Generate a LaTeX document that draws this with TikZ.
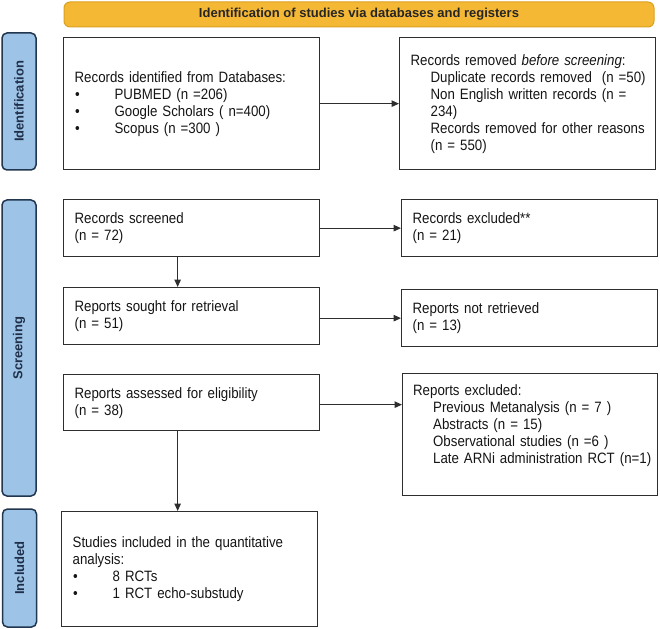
\documentclass[tikz,border=0pt]{standalone}
\usepackage{fontspec}
\setmainfont{Liberation Sans}[FakeStretch=0.885]
\newfontfamily\labfont{Liberation Sans}
\usetikzlibrary{arrows.meta}
\definecolor{bannerfill}{HTML}{F5B835}
\definecolor{bannerdraw}{HTML}{D9A020}
\definecolor{labfill}{HTML}{9DC3E6}
\definecolor{labdraw}{HTML}{22364F}
\definecolor{labtext}{HTML}{1F2F4A}
\definecolor{boxdraw}{HTML}{2E2E2E}
\definecolor{txt}{HTML}{151515}
\newcommand{\bitem}[1]{\makebox[40pt][l]{\hspace{0.5pt}\textbullet}\mbox{#1}}
\newcommand{\ind}[1]{\hspace*{20pt}\mbox{#1}}
\begin{document}
\begin{tikzpicture}[x=1pt,y=-1pt,
  box/.style={draw=boxdraw, line width=1.3pt, anchor=north west, inner sep=0pt,
    align=left, text=txt, font=\fontsize{15}{17}\selectfont},
  lab/.style={draw=labdraw, fill=labfill, line width=1.5pt, rounded corners=5pt,
    rotate=90, inner sep=0pt, minimum height=34pt, text=labtext,
    font=\labfont\bfseries\fontsize{13}{15}\selectfont},
  banner/.style={draw=bannerdraw, fill=bannerfill, line width=1pt, rounded corners=6pt,
    inner sep=0pt, minimum width=590pt, minimum height=25pt, text=black!85,
    font=\labfont\bfseries\fontsize{13}{15}\selectfont},
  arr/.style={draw=boxdraw, line width=1.1pt, -{Triangle[length=7.5pt,width=6.5pt]}}]
\useasboundingbox (0,0) rectangle (660,628);
% banner
\node[banner] (bn) at (359,14.5) {Identification of studies via databases and registers};
% phase labels
\node[lab, minimum width=137pt] (lid) at (19,101.5) {Identification};
\node[lab, minimum width=296pt] (lsc) at (19,348) {Screening};
\node[lab, minimum width=118pt] (lin) at (19.5,568) {Included};
% boxes
\node[box, minimum width=256pt, minimum height=132pt, text width=234pt] (ident) at (63,37)
 {Records identified from Databases:\\
  \bitem{PUBMED (n =206)}\\
  \bitem{Google Scholars ( n=400)}\\
  \bitem{Scopus (n =300 )}};
\node[box, minimum width=256pt, minimum height=132pt, text width=234pt] (removed) at (399,37)
 {\mbox{Records removed \textit{before screening}:}\\
  \ind{Duplicate records removed\ \ (n =50)}\\
  \ind{Non English written records (n =}\\
  \ind{234)}\\
  \ind{Records removed for other reasons}\\
  \ind{(n = 550)}};
\node[box, minimum width=256pt, minimum height=57pt, text width=234pt] (screened) at (63,199)
 {Records screened\\(n = 72)};
\node[box, minimum width=256pt, minimum height=57pt, text width=234pt] (excl) at (401,199)
 {Records excluded**\\(n = 21)};
\node[box, minimum width=256pt, minimum height=57pt, text width=234pt] (sought) at (63,287)
 {Reports sought for retrieval\\(n = 51)};
\node[box, minimum width=256pt, minimum height=57pt, text width=234pt] (notret) at (401,289)
 {Reports not retrieved\\(n = 13)};
\node[box, minimum width=256pt, minimum height=56pt, text width=234pt] (assessed) at (63,374)
 {Reports assessed for eligibility\\(n = 38)};
\node[box, minimum width=255pt, minimum height=122pt, text width=234pt] (rexcl) at (402,373)
 {Reports excluded:\\
  \ind{Previous Metanalysis (n = 7 )}\\
  \ind{Abstracts (n = 15)}\\
  \ind{Observational studies (n =6 )}\\
  \ind{Late ARNi administration RCT (n=1)}\\
  \strut};
\node[box, minimum width=256pt, minimum height=115pt, text width=234pt] (incl) at (61,511)
 {Studies included in the quantitative\\analysis:\\
  \bitem{8 RCTs}\\
  \bitem{1 RCT echo-substudy}};
% connectors
\draw[arr] (ident.east) -- (removed.west);
\draw[arr] (screened.east) -- (screened.east -| excl.west);
\draw[arr] (sought.east |- notret.west) -- (notret.west);
\draw[arr] ([yshift=-2pt]assessed.east) -- ([yshift=-2pt]assessed.east -| rexcl.west);
\coordinate (d1) at ([xshift=-14pt]screened.south);
\draw[arr] (d1) -- (d1 |- sought.north);
\coordinate (d2) at ([xshift=-14pt]assessed.south);
\draw[arr] (d2) -- (d2 |- incl.north);
\end{tikzpicture}
\end{document}
